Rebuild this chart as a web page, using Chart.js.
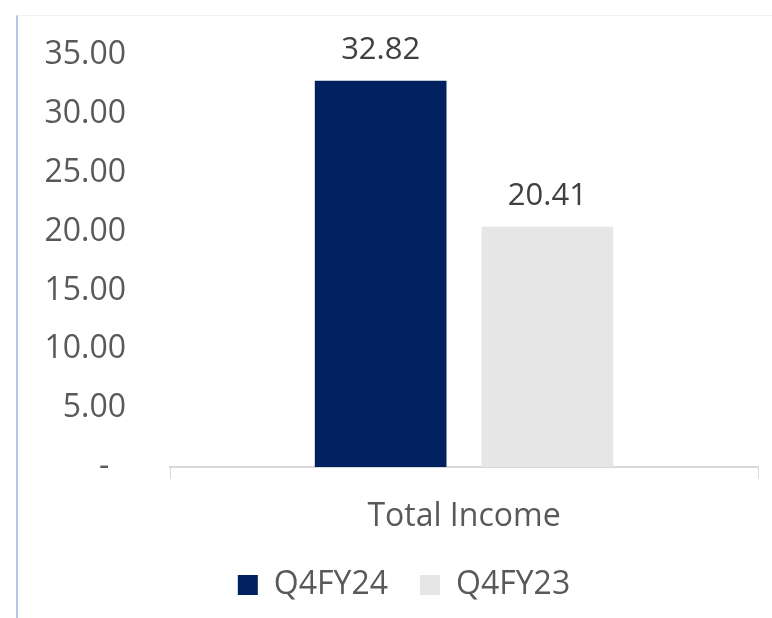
<!DOCTYPE html>
<html>
<head>
<meta charset="utf-8">
<script src="https://cdn.jsdelivr.net/npm/chart.js@4.4.1/dist/chart.umd.min.js"></script>
<style>
  html, body { margin: 0; padding: 0; background: #fff; }
  #wrap { position: relative; width: 772px; height: 618px; }
  #frame { position: absolute; left: 16px; top: 15px; right: 0; bottom: 0;
           border-left: 2px solid #b4c7e7; border-top: 1px solid #f2f2f2; }
  canvas { position: absolute; left: 0; top: 0; }
</style>
</head>
<body>
<div id="wrap">
  <div id="frame"></div>
  <canvas id="incomeChart" width="772" height="618"></canvas>
</div>
<script>
var categories = ['Total Income'];
var seriesNames = ['Q4FY24', 'Q4FY23'];
var q4fy24 = [32.82];
var q4fy23 = [20.41];
var seriesColors = ['#002060', '#e6e6e6'];

var fontFamily = "'Open Sans', 'Liberation Sans', sans-serif";

// draws the value above each bar
var barLabels = {
    id: 'barLabels',
    afterDatasetsDraw: function (chart) {
        var ctx = chart.ctx;
        ctx.save();
        ctx.font = '31px ' + fontFamily;
        ctx.fillStyle = '#404040';
        ctx.textAlign = 'center';
        ctx.textBaseline = 'alphabetic';
        chart.data.datasets.forEach(function (ds, i) {
            chart.getDatasetMeta(i).data.forEach(function (bar, j) {
                ctx.fillText(ds.data[j].toFixed(2), bar.x, bar.y - 22);
            });
        });
        ctx.restore();
    }
};

// excel centres the legend on the whole frame, nudge it a bit
var legendShift = {
    id: 'legendShift',
    afterLayout: function (chart) {
        var lg = chart.legend;
        lg.left += 25;
        lg.right += 25;
        lg.top -= 7;
        lg.bottom -= 7;
    }
};

var ctx = document.getElementById('incomeChart').getContext('2d');
new Chart(ctx, {
    type: 'bar',
    data: {
        labels: categories,
        datasets: [
            { label: seriesNames[0], data: q4fy24, backgroundColor: seriesColors[0] },
            { label: seriesNames[1], data: q4fy23, backgroundColor: seriesColors[1] }
        ]
    },
    options: {
        responsive: false,
        animation: false,
        categoryPercentage: 0.567,
        barPercentage: 0.79,
        layout: {
            padding: { left: 0, top: 45, right: 14, bottom: 0 }
        },
        scales: {
            y: {
                min: 0,
                max: 35,
                ticks: {
                    stepSize: 5,
                    color: '#595959',
                    font: { family: fontFamily, size: 32 },
                    padding: 36,
                    callback: function (v) { return v === 0 ? '-  ' : v.toFixed(2); }
                },
                grid: { display: false },
                border: { display: false },
                afterFit: function (scale) { scale.width = 170; }
            },
            x: {
                offset: true,
                ticks: {
                    color: '#595959',
                    font: { family: fontFamily, size: 32 },
                    padding: 19
                },
                grid: {
                    offset: true,
                    drawOnChartArea: false,
                    tickLength: 12,
                    color: '#d9d9d9'
                },
                border: { color: '#d9d9d9', width: 2 },
                afterFit: function (scale) { scale.height = 77; }
            }
        },
        plugins: {
            legend: {
                position: 'bottom',
                labels: {
                    color: '#595959',
                    font: { family: fontFamily, size: 32 },
                    boxWidth: 20,
                    boxHeight: 20,
                    padding: 32
                }
            },
            tooltip: { enabled: false }
        }
    },
    plugins: [barLabels, legendShift]
});
</script>
</body>
</html>
